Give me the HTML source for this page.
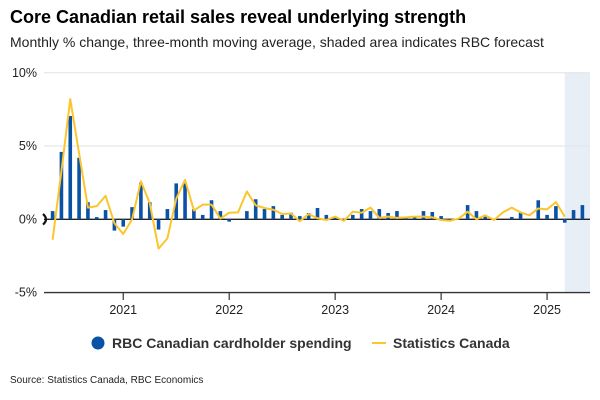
<!DOCTYPE html>
<html><head><meta charset="utf-8"><style>
body{margin:0;width:600px;height:400px;background:#fff;font-family:"Liberation Sans",sans-serif;overflow:hidden;position:relative}
.t{position:absolute;left:10px;top:7px;font-size:18px;font-weight:bold;color:#000}
.s{position:absolute;left:10px;top:34px;font-size:14px;color:#222}
.src{position:absolute;left:10px;top:375px;font-size:10px;color:#222}
</style></head><body>
<div class="t">Core Canadian retail sales reveal underlying strength</div>
<div class="s">Monthly % change, three-month moving average, shaded area indicates RBC forecast</div>
<svg id="c" width="600" height="400" style="position:absolute;left:0;top:0"></svg>
<div class="src">Source: Statistics Canada, RBC Economics</div>
<script>
const yTicks=[10,5,0,-5];
const yearLabels=["2021","2022","2023","2024","2025"];
// months from May 2020 to May 2025
const rbcSpending=[0.56,4.6,7.05,4.2,1.17,0.15,0.63,-0.77,-0.5,0.83,2.5,1.17,-0.7,0.7,2.45,2.45,0.7,0.3,1.3,0.56,-0.16,
0,0.56,1.37,0.7,0.9,0.3,0.45,0.22,0.43,0.77,0.3,0.13,0,0.3,0.7,0.56,0.7,0.43,0.56,0.13,0.22,
0.56,0.5,0.22,0,0,0.97,0.56,0.18,0,0,0.16,0.45,0,1.3,0.3,0.9,-0.23,0.63,0.97];
const statCan=[-1.4,3.3,8.2,4.5,0.8,0.9,1.6,-0.27,-1.0,0,2.6,1.1,-2.0,-1.3,1.4,2.7,0.6,1.0,1.0,0.05,0.45,
0.47,1.9,0.95,0.77,0.65,0.36,0.4,-0.13,0.36,0.07,-0.05,0.18,-0.1,0.52,0.45,0.8,0.1,0.18,0.1,0.13,0.18,
0.18,0.13,-0.05,-0.1,0.05,0.52,0,0.27,-0.05,0.47,0.8,0.47,0.27,0.74,0.68,1.17,0.18];
const forecastStart=58; // month index where forecast begins
const NS="http://www.w3.org/2000/svg";
const svg=document.getElementById('c');
const L=44,R=590,T=73,B=292;
const x=i=>52.6+i*8.83;         // i = months since May 2020
const y=v=>219.3-v*14.65;
function el(tag,attrs){const e=document.createElementNS(NS,tag);for(const k in attrs)e.setAttribute(k,attrs[k]);svg.appendChild(e);return e;}
let r=el('rect',{x:x(forecastStart),y:T,width:R-x(forecastStart),height:B-T,fill:'#e8eef6'});


yTicks.forEach(v=>{
  let g=el('line',{x1:L,x2:R,y1:y(v),y2:y(v),stroke:v===0?'#222':(v===-5?'#333':'#e2e2e2'),'stroke-width':v===0||v===-5?1.3:1});
  
  
  let t=el('text',{x:37,y:y(v)+4,'text-anchor':'end','font-size':12.5,fill:'#222'});
  t.textContent=v+'%';
  
  
});
yearLabels.forEach((lab,k)=>{
  const xi=x(8+12*k);
  let tk=el('line',{x1:xi,x2:xi,y1:B,y2:B+8,stroke:'#333','stroke-width':1.2});
  
  
  let t=el('text',{x:xi,y:B+22,'text-anchor':'middle','font-size':12.5,fill:'#222'});
  t.textContent=lab;
  
  
});
rbcSpending.forEach((v,i)=>{
  if(v===0)return;
  let b=el('rect',{x:x(i)-1.8,y:Math.min(y(v),y(0)),width:3.6,height:Math.abs(y(v)-y(0)),fill:'#0a52a5'});
  
  
});
let ln=el('polyline',{points:statCan.map((v,i)=>x(i)+','+y(v)).join(' '),fill:'none',stroke:'#fcc52c','stroke-width':2,'stroke-linejoin':'round'});


let arc=el('path',{d:'M43,214 Q49,219.3 43,224.6',fill:'none',stroke:'#111','stroke-width':2.2});


// legend
let lc=el('circle',{cx:98,cy:343,r:6.5,fill:'#0a52a5'});


let lt=el('text',{x:112,y:348,'font-size':14,'font-weight':'bold',fill:'#333'});
lt.textContent='RBC Canadian cardholder spending';


let ll=el('line',{x1:372,x2:386,y1:343,y2:343,stroke:'#fcc52c','stroke-width':2});


let lt2=el('text',{x:393,y:348,'font-size':14,'font-weight':'bold',fill:'#333'});
lt2.textContent='Statistics Canada';


</script>
</body></html>
